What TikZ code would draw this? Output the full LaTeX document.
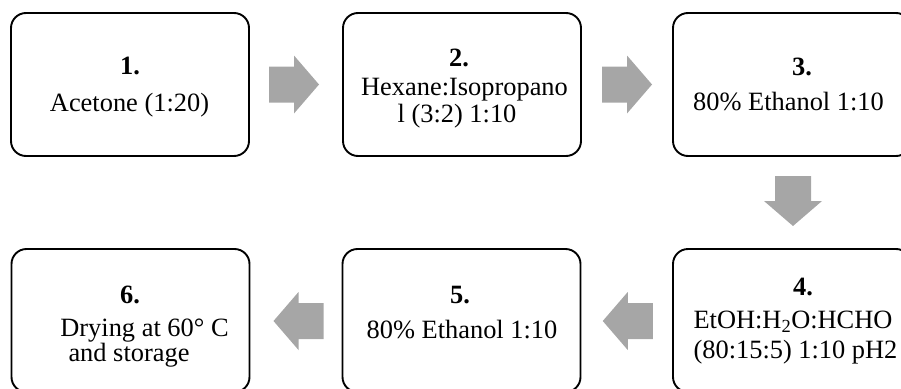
\documentclass[tikz,border=0pt]{standalone}
\usepackage{fontspec}
\setmainfont{Liberation Serif}
\usetikzlibrary{calc}
\definecolor{arrowgray}{RGB}{166,166,166}
\begin{document}
\begin{tikzpicture}[x=1pt,y=-1pt,
  box/.style={draw=black,line width=1.9pt,rounded corners=15pt,minimum width=238pt,minimum height=143pt,inner sep=0pt},
  blk/.style={fill=arrowgray,draw=none},
  txt/.style={anchor=base,inner sep=0pt,font=\fontsize{26.4}{29}\selectfont},
  num/.style={anchor=base,inner sep=0pt,font=\fontsize{26.4}{29}\selectfont\bfseries}]
\useasboundingbox (0,0) rectangle (901,388);
\clip (0,0) rectangle (901,388);
% boxes
\node[box] (b1) at (130,84.5) {};
\node[box] (b2) at (462,84.5) {};
\node[box] (b3) at (792,84.5) {};
\node[box] (b4) at (792,320.5) {};
\node[box] (b5) at (461.5,320.5) {};
\node[box] (b6) at (130.5,320.5) {};
% texts
\node[num] (n1) at (130,74) {1.};
\node[txt] (t1) at (129.5,111.7) {Acetone (1:20)};
\node[num] (n2) at (459,66.7) {2.};
\node[txt] (t2a) at (464.5,95) {Hexane:Isopropano};
\node[txt] (t2b) at (457,122) {l (3:2) 1:10};
\node[num] (n3) at (802,75) {3.};
\node[txt] (t3) at (788.5,110) {80\% Ethanol 1:10};
\node[num] (n4) at (803,295) {4.};
\node[txt] (t4a) at (793,328.3) {EtOH:H\textsubscript{2}O:HCHO};
\node[txt] (t4b) at (795.5,358.3) {(80:15:5) 1:10 pH2};
\node[num] (n5) at (460,303.3) {5.};
\node[txt] (t5) at (462,338.3) {80\% Ethanol 1:10};
\node[num] (n6) at (130,303.3) {6.};
\node[txt] (t6a) at (144.5,336) {Drying at 60° C};
\node[txt] (t6b) at (129,361.7) {and storage};
% block arrows between boxes
\coordinate (c12) at ($(b1.east)!0.5!(b2.west)+(-2,0)$);
\coordinate (c23) at ($(b2.east)!0.5!(b3.west)$);
\coordinate (c34) at ($(b3.south)!0.5!(b4.north)+(1,-1.5)$);
\coordinate (c45) at ($(b4.west)!0.5!(b5.east)+(1,0.5)$);
\coordinate (c56) at ($(b5.west)!0.5!(b6.east)+(2.5,0.5)$);
\fill[blk,shift={(c12)}] (-25,-18) -- (0,-18) -- (0,-29) -- (25,0) -- (0,29) -- (0,18) -- (-25,18) -- cycle;
\fill[blk,shift={(c23)}] (-25,-18) -- (0,-18) -- (0,-29) -- (25,0) -- (0,29) -- (0,18) -- (-25,18) -- cycle;
\fill[blk,shift={(c34)}] (-18,-25) -- (-18,0) -- (-29,0) -- (0,25) -- (29,0) -- (18,0) -- (18,-25) -- cycle;
\fill[blk,shift={(c45)}] (25,-18) -- (0,-18) -- (0,-29) -- (-25,0) -- (0,29) -- (0,18) -- (25,18) -- cycle;
\fill[blk,shift={(c56)}] (25,-18) -- (0,-18) -- (0,-29) -- (-25,0) -- (0,29) -- (0,18) -- (25,18) -- cycle;
\end{tikzpicture}
\end{document}
